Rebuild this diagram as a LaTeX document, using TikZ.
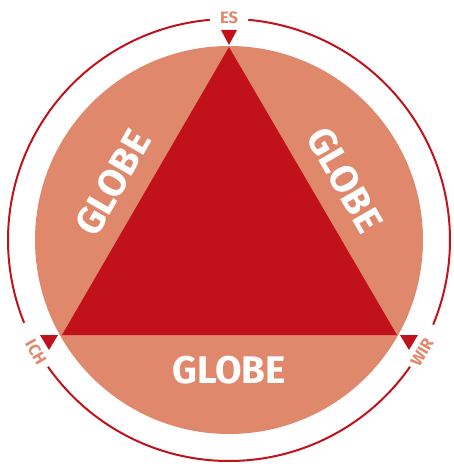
\documentclass[tikz,border=0pt]{standalone}
\usepackage{fontspec}
\setmainfont{Fira Sans}
\definecolor{darkred}{HTML}{C1121C}
\definecolor{salmon}{HTML}{E0886C}
\tikzset{
  ring/.style={draw=darkred, line width=2pt},
  marker/.style={fill=darkred},
  globe/.style={text=white, font=\fontsize{38.5}{38.5}\selectfont\bfseries, inner sep=0pt},
  pers/.style={text=salmon, font=\fontsize{16.5}{16.5}\selectfont\bfseries, inner sep=0pt}
}
\begin{document}
\begin{tikzpicture}[x=1pt,y=1pt]
\useasboundingbox (-229,-224) rectangle (225,240);
\coordinate (c) at (0,0);
\fill[salmon] (c) circle (194);
\coordinate (top) at (0,193);
\coordinate (left) at (-167,-95);
\coordinate (right) at (168,-95);
\fill[darkred] (top) -- (left) -- (right) -- cycle;
% ring
\draw[ring] (95:221) arc[start angle=95, end angle=202, radius=221];
\draw[ring] (215:221) arc[start angle=215, end angle=325, radius=221];
\draw[ring] (337.5:221) arc[start angle=337.5, end angle=445, radius=221];
% markers
\fill[marker] (-8,210) -- (8,210) -- (0,195) -- cycle;
\fill[marker] (-189,-95) -- (-171,-95) -- (-180,-110) -- cycle;
\fill[marker] (171,-95) -- (189,-95) -- (180,-110) -- cycle;
% labels
\node[pers] (es) at (0,222) {ES};
\node[pers, rotate=-60] (ich) at (-193,-112) {ICH};
\node[pers, rotate=60] (wir) at (193,-112) {WIR};
\node[globe] (g1) at (0,-130) {GLOBE};
\node[globe, rotate=60] (g2) at (-116,57) {GLOBE};
\node[globe, rotate=-60] (g3) at (116,60) {GLOBE};
\end{tikzpicture}
\end{document}
